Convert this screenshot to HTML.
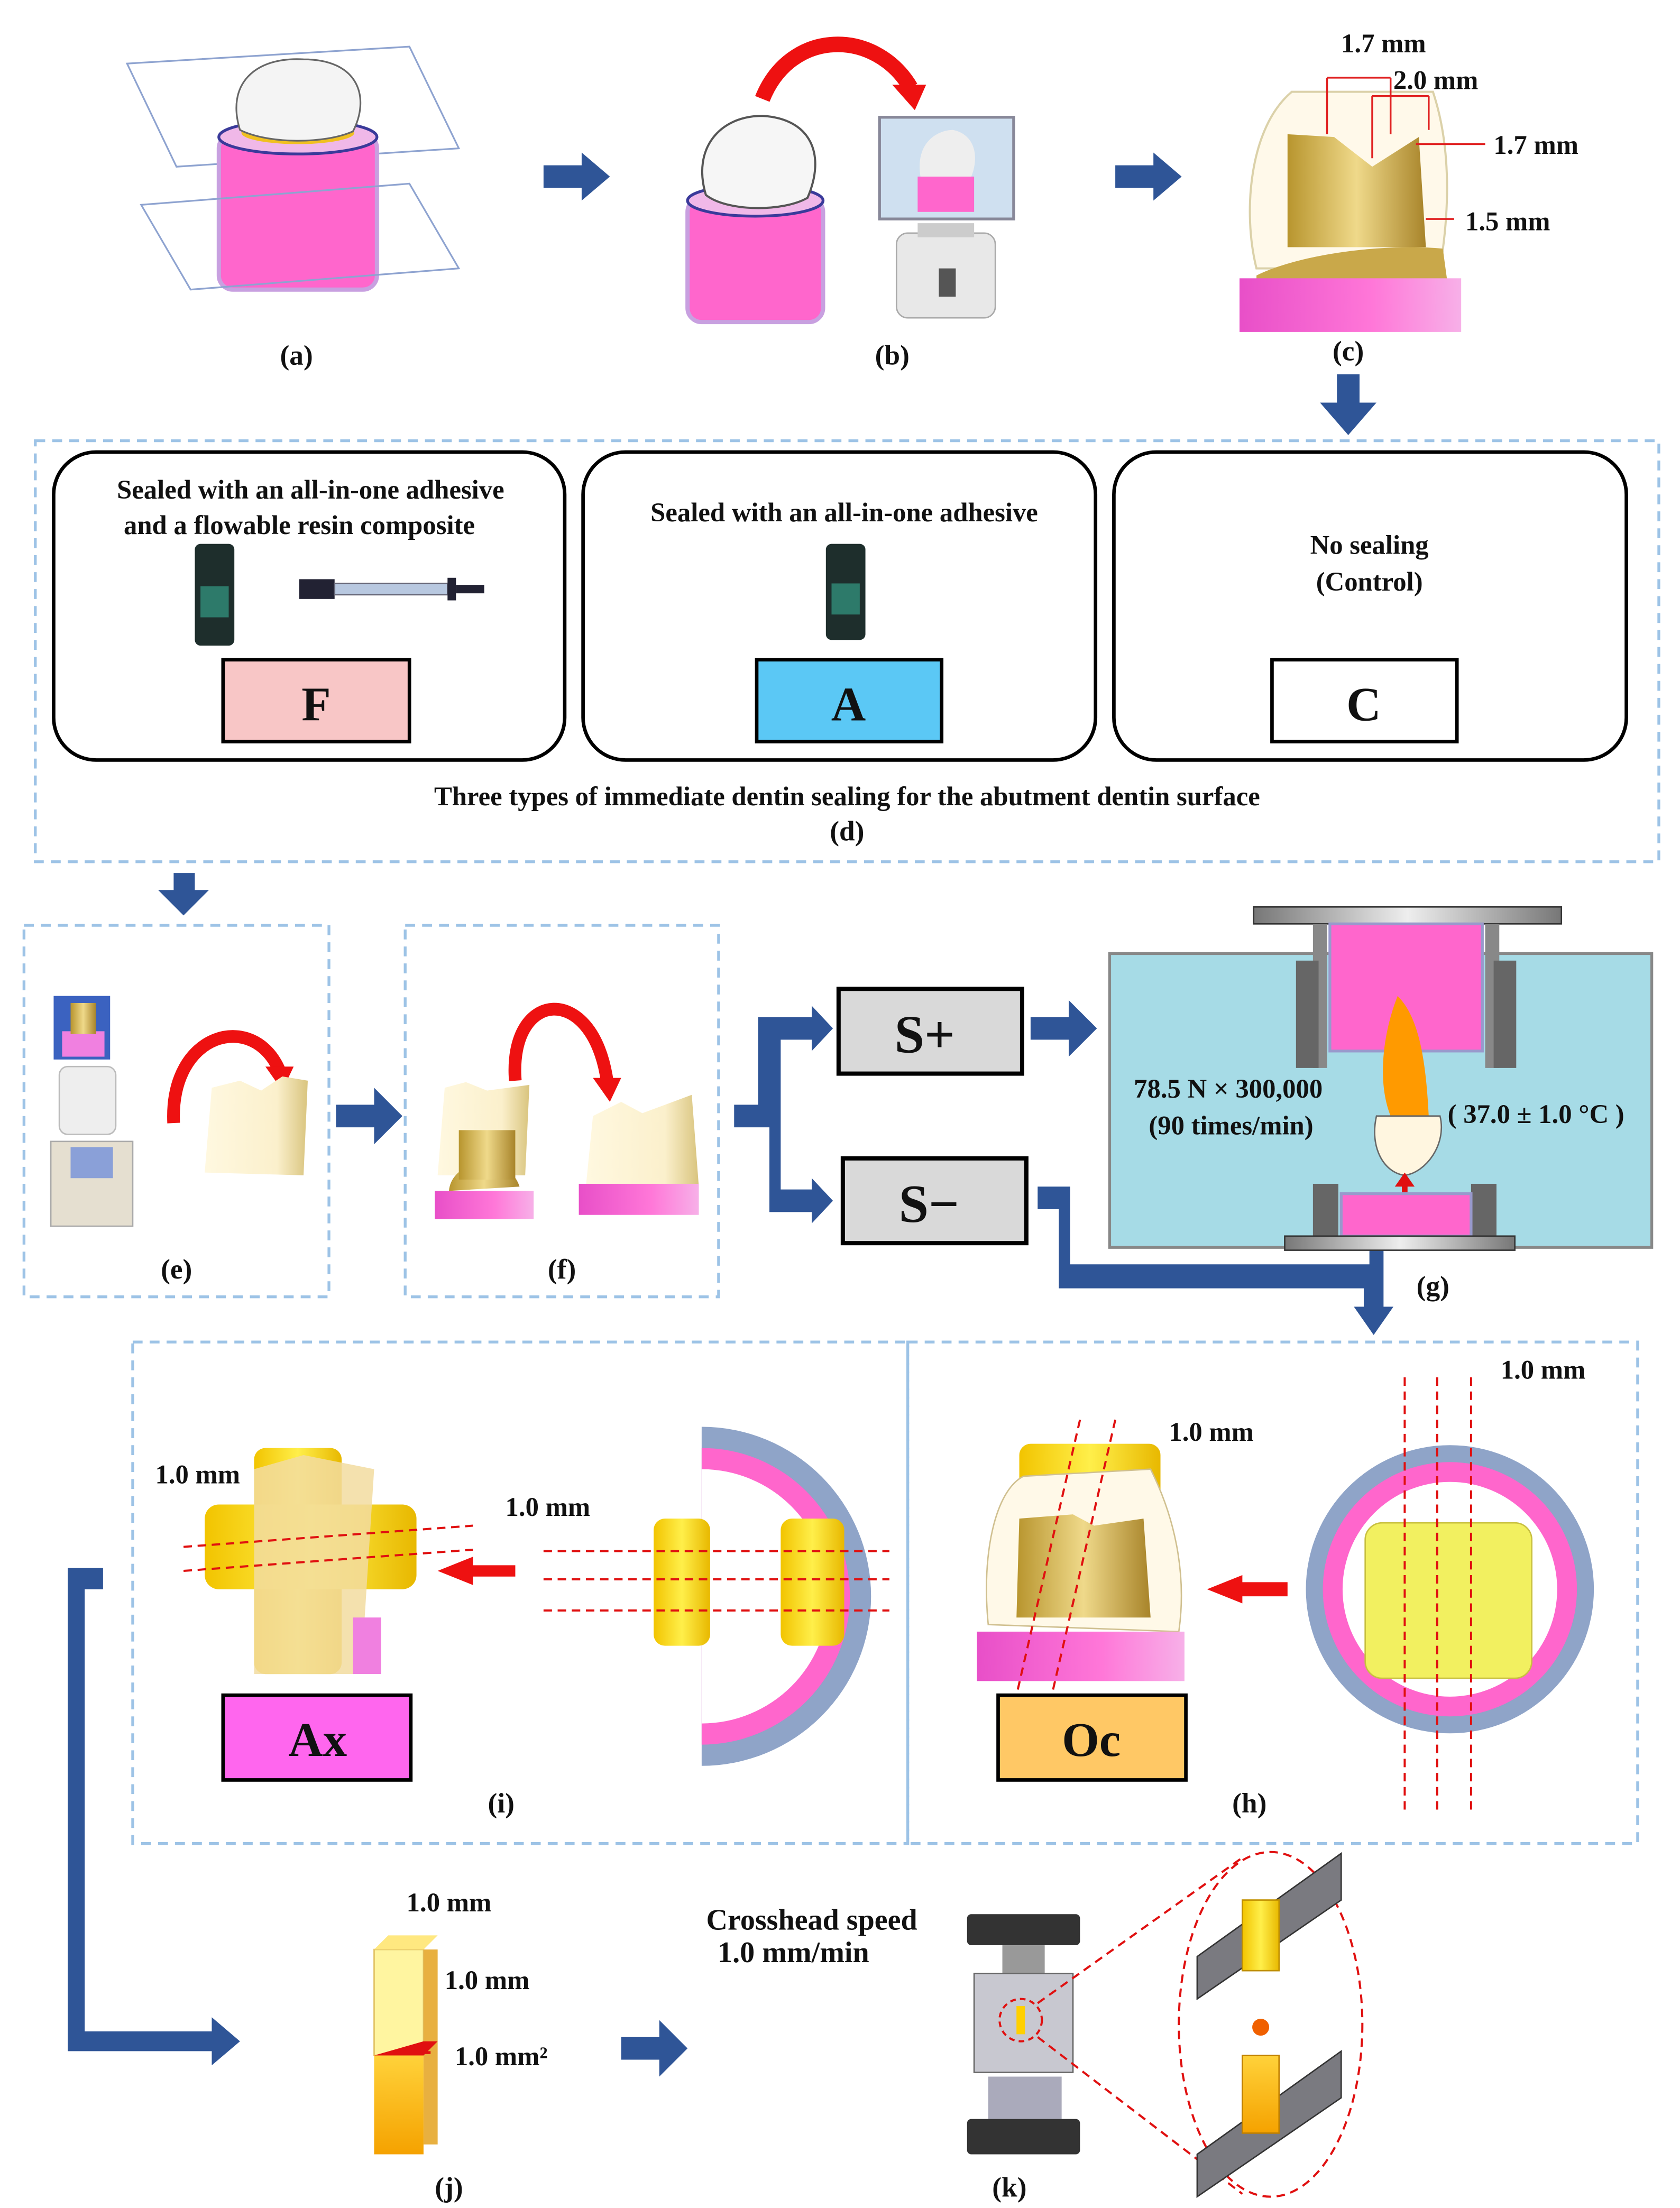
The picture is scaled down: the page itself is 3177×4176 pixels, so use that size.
<!DOCTYPE html>
<html><head><meta charset="utf-8"><style>
html,body{margin:0;padding:0;background:#fff}
svg{display:block}
text{font-family:"Liberation Serif",serif;font-weight:bold;fill:#111}
</style></head><body>
<svg width="3177" height="4176" viewBox="0 0 1190 1563" preserveAspectRatio="none" xmlns="http://www.w3.org/2000/svg">
<defs>
<linearGradient id="gold" x1="0" x2="1"><stop offset="0" stop-color="#b8952e"/><stop offset=".5" stop-color="#efd98a"/><stop offset="1" stop-color="#a8842a"/></linearGradient>
<linearGradient id="ivory" x1="0" x2="1"><stop offset="0" stop-color="#fff8e0"/><stop offset=".7" stop-color="#fbf0cc"/><stop offset="1" stop-color="#d9c47e"/></linearGradient>
<linearGradient id="pink" x1="0" x2="1"><stop offset="0" stop-color="#e84fc8"/><stop offset=".6" stop-color="#ff77d8"/><stop offset="1" stop-color="#f7b0e8"/></linearGradient>
<linearGradient id="yel" x1="0" x2="1"><stop offset="0" stop-color="#f2c400"/><stop offset=".5" stop-color="#ffef4a"/><stop offset="1" stop-color="#e8b800"/></linearGradient>
<linearGradient id="orng" x1="0" y1="0" x2="0" y2="1"><stop offset="0" stop-color="#ffd23a"/><stop offset="1" stop-color="#f5a200"/></linearGradient>
<linearGradient id="metal" x1="0" x2="1"><stop offset="0" stop-color="#777"/><stop offset=".5" stop-color="#eee"/><stop offset="1" stop-color="#777"/></linearGradient>
</defs>

<!-- (a) -->
<polygon points="90,45 290,33 325,105 125,118" fill="none" stroke="#8ea3d0" stroke-width="1.2"/>
<rect x="155" y="95" width="112" height="110" rx="10" fill="#ff66cc" stroke="#c8a0e0" stroke-width="3"/>
<ellipse cx="211" cy="97" rx="56" ry="12" fill="#f0b8e8" stroke="#3a3a9a" stroke-width="2"/>
<ellipse cx="211" cy="94" rx="40" ry="8" fill="#f0c020"/>
<path d="M170,92 C160,60 180,40 215,42 C255,42 262,70 250,93 C230,102 190,102 170,92z" fill="#f4f4f4" stroke="#666" stroke-width="1.2"/>
<polygon points="100,145 290,130 325,190 135,205" fill="none" stroke="#8ea3d0" stroke-width="1.2"/>
<text x="210" y="258" font-size="20" text-anchor="middle">(a)</text>
<polygon points="385,117 412,117 412,108 432,125 412,142 412,133 385,133" fill="#2f5597"/>
<polygon points="790,117 817,117 817,108 837,125 817,142 817,133 790,133" fill="#2f5597"/>

<!-- (b) -->
<rect x="487" y="140" width="96" height="88" rx="10" fill="#ff66cc" stroke="#c8a0e0" stroke-width="3"/>
<ellipse cx="535" cy="142" rx="48" ry="11" fill="#f0b8e8" stroke="#3a3a9a" stroke-width="2"/>
<path d="M500,138 C490,105 510,82 540,82 C575,84 585,110 572,140 C555,150 515,150 500,138z" fill="#f6f6f6" stroke="#555" stroke-width="1.5"/>
<path d="M540,70 C560,20 620,20 645,62" fill="none" stroke="#ee1111" stroke-width="11"/>
<polygon points="632,60 656,60 648,78" fill="#ee1111"/>
<rect x="623" y="83" width="95" height="72" fill="#cfe0f0" stroke="#889" stroke-width="2"/>
<rect x="650" y="125" width="40" height="25" fill="#ff66cc"/>
<path d="M652,125 C648,100 665,92 675,92 C690,95 694,110 688,125z" fill="#eee"/>
<rect x="635" y="165" width="70" height="60" rx="8" fill="#e8e8e8" stroke="#aaa"/>
<rect x="650" y="158" width="40" height="10" fill="#ccc"/>
<rect x="665" y="190" width="12" height="20" fill="#555"/>
<text x="632" y="258" font-size="20" text-anchor="middle">(b)</text>

<!-- (c) -->
<path d="M890,190 C880,150 885,90 915,65 L1015,65 C1030,110 1025,160 1020,190z" fill="#fff9e8" stroke="#d8cda0" stroke-width="1.5" opacity=".9"/>
<path d="M912,175 L912,95 L945,97 L972,118 L1005,97 L1010,175z" fill="url(#gold)"/>
<path d="M890,195 C920,180 980,172 1022,176 L1025,198 L890,198z" fill="#c9a84a"/>
<rect x="878" y="197" width="157" height="38" fill="url(#pink)"/>
<g stroke="#e02020" stroke-width="1.3" fill="none">
<path d="M940,55 L985,55 M940,55 L940,95 M985,55 L985,95"/>
<path d="M972,68 L1012,68 M972,68 L972,112 M1012,68 L1012,92"/>
<path d="M1003,102 L1052,102"/>
<path d="M1010,155 L1030,155"/>
</g>
<text x="980" y="37" font-size="19" text-anchor="middle">1.7 mm</text>
<text x="1017" y="63" font-size="19" text-anchor="middle">2.0 mm</text>
<text x="1088" y="109" font-size="19" text-anchor="middle">1.7 mm</text>
<text x="1068" y="163" font-size="19" text-anchor="middle">1.5 mm</text>
<text x="955" y="255" font-size="20" text-anchor="middle">(c)</text>
<polygon points="947,265 963,265 963,285 975,285 955,308 935,285 947,285" fill="#2f5597"/>

<!-- (d) -->
<rect x="25" y="312" width="1150" height="298" fill="none" stroke="#9dc3e6" stroke-width="2" stroke-dasharray="7,5"/>
<rect x="38" y="320" width="362" height="218" rx="30" fill="#fff" stroke="#000" stroke-width="2.5"/>
<rect x="413" y="320" width="363" height="218" rx="30" fill="#fff" stroke="#000" stroke-width="2.5"/>
<rect x="789" y="320" width="363" height="218" rx="30" fill="#fff" stroke="#000" stroke-width="2.5"/>
<text x="220" y="353" font-size="19" text-anchor="middle">Sealed with an all-in-one adhesive</text>
<text x="212" y="378" font-size="19" text-anchor="middle">and a flowable resin composite</text>
<text x="598" y="369" font-size="19" text-anchor="middle">Sealed with an all-in-one adhesive</text>
<text x="970" y="392" font-size="19" text-anchor="middle">No sealing</text>
<text x="970" y="418" font-size="19" text-anchor="middle">(Control)</text>
<rect x="138" y="385" width="28" height="72" rx="4" fill="#1e2e2c"/><rect x="142" y="415" width="20" height="22" fill="#2d7a6a"/>
<rect x="585" y="385" width="28" height="68" rx="4" fill="#1e2e2c"/><rect x="589" y="413" width="20" height="22" fill="#2d7a6a"/>
<rect x="212" y="410" width="25" height="14" fill="#223"/><rect x="237" y="413" width="80" height="8" fill="#b8c8e0" stroke="#667"/><rect x="317" y="409" width="6" height="16" fill="#223"/><rect x="323" y="414" width="20" height="6" fill="#223"/>
<rect x="158" y="467" width="132" height="58" fill="#f8c6c6" stroke="#000" stroke-width="2.5"/>
<rect x="536" y="467" width="131" height="58" fill="#5bc8f5" stroke="#000" stroke-width="2.5"/>
<rect x="901" y="467" width="131" height="58" fill="#fff" stroke="#000" stroke-width="2.5"/>
<text x="224" y="510" font-size="34" text-anchor="middle">F</text>
<text x="601" y="510" font-size="34" text-anchor="middle">A</text>
<text x="966" y="510" font-size="34" text-anchor="middle">C</text>
<text x="600" y="570" font-size="19" text-anchor="middle">Three types of immediate dentin sealing for the abutment dentin surface</text>
<text x="600" y="595" font-size="20" text-anchor="middle">(d)</text>
<polygon points="123,618 138,618 138,630 148,630 130,648 112,630 123,630" fill="#2f5597"/>

<!-- (e) -->
<rect x="17" y="655" width="216" height="263" fill="none" stroke="#9dc3e6" stroke-width="2" stroke-dasharray="7,5"/>
<rect x="38" y="705" width="40" height="45" fill="#3b62c0"/><rect x="44" y="730" width="30" height="18" fill="#f080e0"/><rect x="50" y="710" width="18" height="22" fill="url(#gold)"/>
<rect x="42" y="755" width="40" height="48" rx="6" fill="#eee" stroke="#bbb"/>
<rect x="36" y="808" width="58" height="60" fill="#e5dfd0" stroke="#aaa"/><rect x="50" y="812" width="30" height="22" fill="#8aa0d8"/>
<path d="M123,795 C120,730 180,715 198,758" fill="none" stroke="#ee1111" stroke-width="9"/>
<polygon points="188,755 208,755 200,772" fill="#ee1111"/>
<path d="M145,830 L150,770 L170,765 L185,772 L200,762 L218,765 L215,832z" fill="url(#ivory)"/>
<text x="125" y="905" font-size="20" text-anchor="middle">(e)</text>
<polygon points="238,782 265,782 265,770 285,790 265,810 265,798 238,798" fill="#2f5597"/>
<!-- (f) -->
<rect x="287" y="655" width="222" height="263" fill="none" stroke="#9dc3e6" stroke-width="2" stroke-dasharray="7,5"/>
<path d="M365,765 C360,700 420,695 430,765" fill="none" stroke="#ee1111" stroke-width="9"/>
<polygon points="420,763 440,763 432,780" fill="#ee1111"/>
<path d="M310,832 L315,770 L330,766 L345,772 L375,768 L372,832z" fill="url(#ivory)"/>
<rect x="308" y="843" width="70" height="20" fill="url(#pink)"/>
<path d="M318,843 C320,820 360,815 368,840z" fill="url(#gold)"/><rect x="325" y="800" width="40" height="35" fill="url(#gold)"/>
<path d="M415,840 L420,790 L440,780 L455,788 L490,775 L495,840z" fill="url(#ivory)"/>
<rect x="410" y="838" width="85" height="22" fill="url(#pink)"/>
<text x="398" y="905" font-size="20" text-anchor="middle">(f)</text>

<!-- branch -->
<polygon points="520,782 537,782 537,720 575,720 575,712 590,728 575,744 575,736 553,736 553,842 575,842 575,834 590,850 575,866 575,858 545,858 545,798 520,798" fill="#2f5597"/>
<rect x="594" y="700" width="130" height="60" fill="#d9d9d9" stroke="#000" stroke-width="3"/>
<rect x="597" y="820" width="130" height="60" fill="#d9d9d9" stroke="#000" stroke-width="3"/>
<text x="655" y="745" font-size="38" text-anchor="middle">S+</text>
<text x="658" y="865" font-size="38" text-anchor="middle">S−</text>
<polygon points="730,720 757,720 757,708 777,728 757,748 757,736 730,736" fill="#2f5597"/>
<polygon points="735,840 758,840 758,895 970,895 970,880 980,880 980,925 987,925 973,945 959,925 966,925 966,912 750,912 750,856 735,856" fill="#2f5597"/>

<!-- (g) -->
<rect x="786" y="675" width="384" height="208" fill="#a6dbe6" stroke="#888" stroke-width="2"/>
<rect x="888" y="642" width="218" height="12" fill="url(#metal)" stroke="#333"/>
<rect x="930" y="654" width="10" height="102" fill="#888"/><rect x="1052" y="654" width="10" height="102" fill="#888"/>
<rect x="918" y="680" width="16" height="76" fill="#666"/><rect x="1058" y="680" width="16" height="76" fill="#666"/>
<rect x="942" y="654" width="108" height="90" fill="#ff66cc" stroke="#99c" stroke-width="2"/>
<path d="M990,705 C980,730 975,765 985,790 L1012,790 C1010,750 1005,720 990,705z" fill="#ff9a00"/>
<path d="M975,790 L1020,790 C1025,810 1010,830 995,832 C980,830 970,812 975,790z" fill="#fff6e0" stroke="#666"/>
<line x1="995" y1="835" x2="995" y2="868" stroke="#e01010" stroke-width="4"/>
<polygon points="988,840 1002,840 995,830" fill="#e01010"/><polygon points="988,862 1002,862 995,872" fill="#e01010"/>
<rect x="930" y="838" width="18" height="42" fill="#666"/><rect x="1042" y="838" width="18" height="42" fill="#666"/>
<rect x="950" y="845" width="92" height="30" fill="#ff66cc" stroke="#99c" stroke-width="2"/>
<rect x="910" y="875" width="163" height="10" fill="url(#metal)" stroke="#333"/>
<text x="870" y="777" font-size="19" text-anchor="middle">78.5 N × 300,000</text>
<text x="872" y="803" font-size="19" text-anchor="middle">(90 times/min)</text>
<text x="1088" y="795" font-size="19" text-anchor="middle">( 37.0 ± 1.0 °C )</text>
<text x="1015" y="917" font-size="20" text-anchor="middle">(g)</text>

<!-- (i) (h) -->
<rect x="94" y="950" width="549" height="355" fill="none" stroke="#9dc3e6" stroke-width="2" stroke-dasharray="7,5"/>
<rect x="643" y="950" width="517" height="355" fill="none" stroke="#9dc3e6" stroke-width="2" stroke-dasharray="7,5"/>
<rect x="180" y="1025" width="62" height="160" rx="8" fill="url(#yel)"/>
<rect x="145" y="1065" width="150" height="60" rx="10" fill="url(#yel)"/>
<path d="M180,1040 L215,1030 L265,1040 L258,1150 L250,1185 L180,1185z" fill="#f2dca0" opacity=".85"/>
<rect x="250" y="1145" width="20" height="40" fill="#f080e0"/>
<g stroke="#e01010" stroke-width="1.5" stroke-dasharray="6,4"><line x1="130" y1="1095" x2="335" y2="1080"/><line x1="130" y1="1112" x2="335" y2="1097"/></g>
<text x="140" y="1050" font-size="19" text-anchor="middle">1.0 mm</text>
<text x="388" y="1073" font-size="19" text-anchor="middle">1.0 mm</text>
<polygon points="310,1112 335,1102 335,1108 365,1108 365,1116 335,1116 335,1122" fill="#ee1111"/>
<path d="M497,1010 A120,120 0 0 1 497,1250" fill="#8fa4c8"/>
<path d="M497,1025 A105,105 0 0 1 497,1235" fill="#ff66cc"/>
<path d="M497,1040 A90,90 0 0 1 497,1220" fill="#fff"/>
<rect x="463" y="1075" width="40" height="90" rx="8" fill="url(#yel)"/>
<rect x="553" y="1075" width="45" height="90" rx="8" fill="url(#yel)"/>
<g stroke="#e01010" stroke-width="1.5" stroke-dasharray="6,4"><line x1="385" y1="1098" x2="630" y2="1098"/><line x1="385" y1="1118" x2="630" y2="1118"/><line x1="385" y1="1140" x2="630" y2="1140"/></g>
<rect x="158" y="1200" width="133" height="60" fill="#ff66ee" stroke="#000" stroke-width="2.5"/>
<text x="225" y="1243" font-size="34" text-anchor="middle">Ax</text>
<text x="355" y="1283" font-size="20" text-anchor="middle">(i)</text>
<rect x="722" y="1022" width="100" height="40" rx="8" fill="url(#yel)"/>
<path d="M700,1150 C695,1100 705,1055 725,1045 L815,1040 C835,1080 840,1120 835,1155z" fill="#fff9e8" stroke="#d0c090"/>
<path d="M720,1145 L722,1075 L760,1072 L775,1080 L810,1075 L815,1145z" fill="url(#gold)"/>
<rect x="692" y="1155" width="147" height="35" fill="url(#pink)"/>
<g stroke="#e01010" stroke-width="1.5" stroke-dasharray="6,4"><line x1="765" y1="1005" x2="720" y2="1200"/><line x1="790" y1="1005" x2="745" y2="1200"/></g>
<text x="858" y="1020" font-size="19" text-anchor="middle">1.0 mm</text>
<polygon points="855,1125 880,1115 880,1120 912,1120 912,1130 880,1130 880,1135" fill="#ee1111"/>
<circle cx="1027" cy="1125" r="102" fill="#8fa4c8"/>
<circle cx="1027" cy="1125" r="90" fill="#ff66cc"/>
<circle cx="1027" cy="1125" r="76" fill="#fff"/>
<rect x="967" y="1078" width="118" height="110" rx="12" fill="#f2f060" stroke="#c8c040"/>
<g stroke="#e01010" stroke-width="1.5" stroke-dasharray="6,4"><line x1="995" y1="975" x2="995" y2="1285"/><line x1="1018" y1="975" x2="1018" y2="1285"/><line x1="1042" y1="975" x2="1042" y2="1285"/></g>
<text x="1093" y="976" font-size="19" text-anchor="middle">1.0 mm</text>
<rect x="707" y="1200" width="133" height="60" fill="#ffc865" stroke="#000" stroke-width="2.5"/>
<text x="773" y="1243" font-size="34" text-anchor="middle">Oc</text>
<text x="885" y="1283" font-size="20" text-anchor="middle">(h)</text>

<polygon points="48,1110 73,1110 73,1125 60,1125 60,1438 150,1438 150,1428 170,1445 150,1462 150,1452 48,1452" fill="#2f5597"/>

<!-- (j) -->
<rect x="265" y="1380" width="35" height="75" fill="#fff5a0" stroke="#e0c060"/>
<rect x="265" y="1455" width="35" height="70" fill="url(#orng)"/>
<polygon points="265,1380 275,1370 310,1370 300,1380" fill="#ffe880"/>
<rect x="300" y="1380" width="10" height="138" fill="#e8b040"/>
<polygon points="265,1455 300,1445 310,1445 300,1455" fill="#e01010"/>
<line x1="290" y1="1453" x2="305" y2="1453" stroke="#e01010" stroke-width="2"/>
<text x="318" y="1353" font-size="19" text-anchor="middle">1.0 mm</text>
<text x="345" y="1408" font-size="19" text-anchor="middle">1.0 mm</text>
<text x="355" y="1462" font-size="19" text-anchor="middle">1.0 mm²</text>
<text x="318" y="1555" font-size="20" text-anchor="middle">(j)</text>
<polygon points="440,1442 467,1442 467,1430 487,1450 467,1470 467,1458 440,1458" fill="#2f5597"/>

<!-- (k) -->
<text x="575" y="1366" font-size="21" text-anchor="middle">Crosshead speed</text>
<text x="562" y="1389" font-size="21" text-anchor="middle">1.0 mm/min</text>
<rect x="685" y="1355" width="80" height="22" rx="3" fill="#333"/>
<rect x="710" y="1377" width="30" height="20" fill="#999"/>
<rect x="690" y="1397" width="70" height="70" fill="#c8c8d0" stroke="#666"/>
<rect x="700" y="1470" width="52" height="30" fill="#aab"/>
<rect x="685" y="1500" width="80" height="25" rx="3" fill="#333"/>
<circle cx="723" cy="1430" r="15" fill="none" stroke="#e01010" stroke-width="1.5" stroke-dasharray="4,3"/>
<rect x="720" y="1420" width="6" height="20" fill="#ffd000"/>
<g stroke="#e01010" stroke-width="1.5" stroke-dasharray="6,4" fill="none">
<line x1="735" y1="1418" x2="880" y2="1315"/><line x1="735" y1="1442" x2="880" y2="1553"/>
<ellipse cx="900" cy="1433" rx="65" ry="122"/></g>
<polygon points="848,1385 950,1312 950,1345 848,1415" fill="#7a7a80" stroke="#333"/>
<polygon points="848,1525 950,1452 950,1485 848,1555" fill="#7a7a80" stroke="#333"/>
<rect x="880" y="1345" width="26" height="50" fill="url(#yel)" stroke="#c09000"/>
<rect x="880" y="1455" width="26" height="55" fill="url(#orng)" stroke="#c08000"/>
<circle cx="893" cy="1435" r="6" fill="#f06000"/>
<text x="715" y="1555" font-size="20" text-anchor="middle">(k)</text>
</svg>
</body></html>
